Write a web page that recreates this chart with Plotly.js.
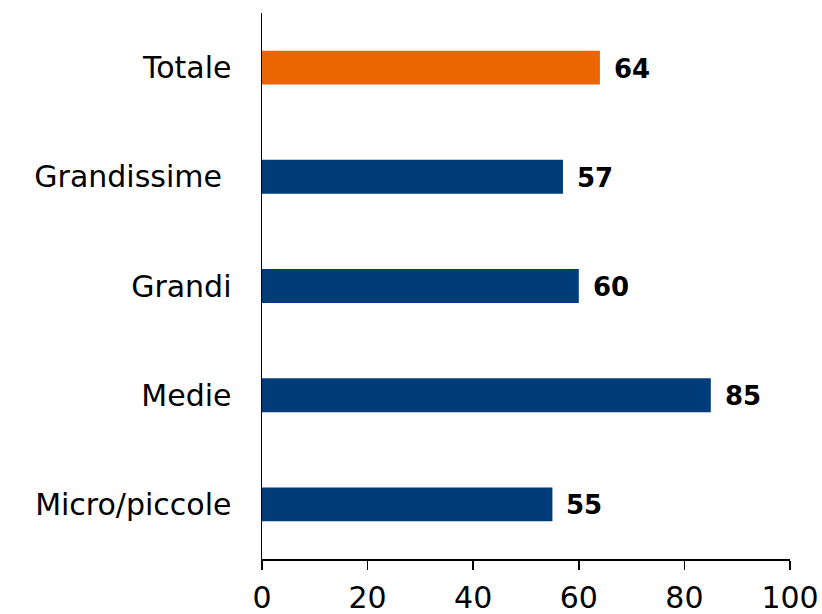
<!DOCTYPE html>
<html>
<head>
<meta charset="utf-8">
<script src="https://cdn.plot.ly/plotly-3.0.1.min.js"></script>
<style>html,body{margin:0;padding:0;background:#fff;}#chart{width:822px;height:614px;}</style>
</head>
<body>
<div id="chart"></div>
<script>
const categories = ["Micro/piccole", "Medie", "Grandi", "Grandissime\u00a0", "Totale"];
const values = [55, 85, 60, 57, 64];
const barColors = ["#003B7A", "#003B7A", "#003B7A", "#003B7A", "#EC6500"];
const xTicks = [0, 20, 40, 60, 80, 100];

const FONT = "'DejaVu Sans', sans-serif";

const trace = {
  type: "bar",
  orientation: "h",
  y: categories,
  x: values,
  marker: {color: barColors},
  width: 0.31,
  hoverinfo: "none"
};

const annotations = categories.map((c, i) => ({
  x: values[i], y: c, xref: "x", yref: "y",
  text: "<b>" + values[i] + "</b>",
  showarrow: false, xanchor: "left", yanchor: "middle", xshift: 12, yshift: -1,
  font: {family: FONT, size: 26, color: "#000"}
}));

const layout = {
  width: 822, height: 614,
  margin: {l: 262, r: 32, t: 13, b: 55},
  paper_bgcolor: "#fff", plot_bgcolor: "#fff",
  showlegend: false,
  font: {family: FONT, size: 30, color: "#000"},
  xaxis: {
    range: [0, 100], tickvals: xTicks, ticktext: xTicks.map(String),
    showgrid: false, zeroline: false,
    showline: true, linecolor: "#000", linewidth: 1.5,
    ticks: "outside", ticklen: 9, tickwidth: 1.5, tickcolor: "#000",
    ticklabelstandoff: 2,
    tickfont: {family: FONT, size: 30, color: "#000"},
    fixedrange: true
  },
  yaxis: {
    type: "category",
    categoryorder: "array", categoryarray: categories,
    range: [-0.5, 4.5],
    showgrid: false, zeroline: false,
    showline: true, linecolor: "#000", linewidth: 1.5,
    ticks: "", ticklabelstandoff: 23,
    tickfont: {family: FONT, size: 30, color: "#000"},
    fixedrange: true
  },
  annotations: annotations
};

Plotly.newPlot("chart", [trace], layout, {displayModeBar: false, staticPlot: true});
</script>
</body>
</html>
